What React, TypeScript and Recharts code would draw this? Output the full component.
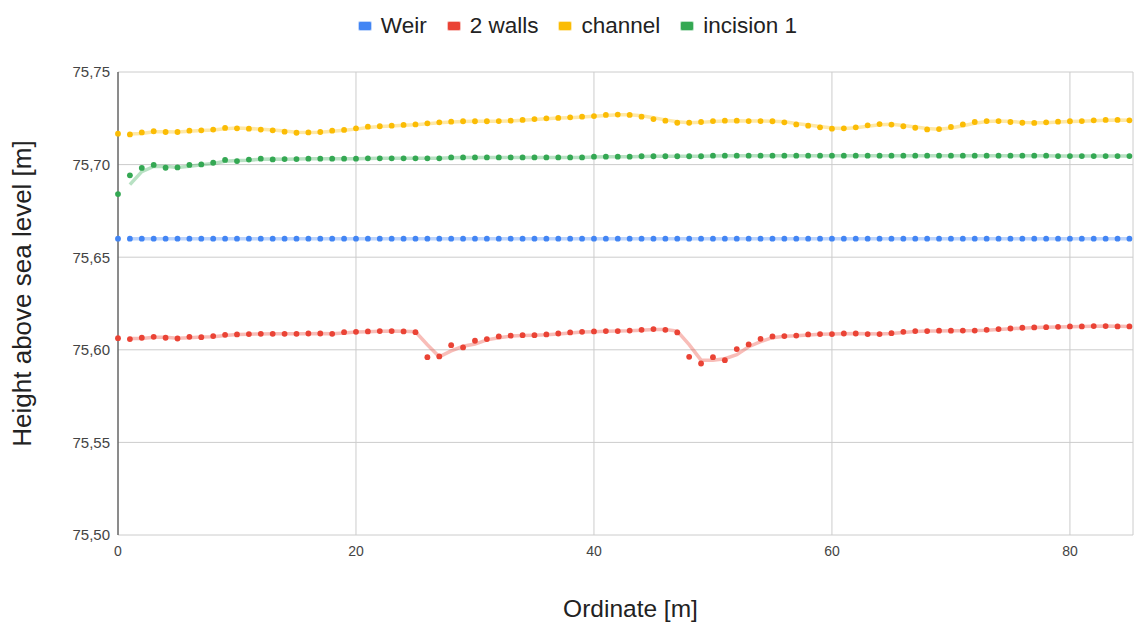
import React from 'react';
import { LineChart, Line, XAxis, YAxis, CartesianGrid, Legend, Label } from 'recharts';

const ordinate = [
  0, 1, 2, 3, 4, 5, 6, 7, 8, 9, 10, 11, 12, 13, 14, 15, 16, 17, 18, 19, 20,
  21, 22, 23, 24, 25, 26, 27, 28, 29, 30, 31, 32, 33, 34, 35, 36, 37, 38, 39, 40,
  41, 42, 43, 44, 45, 46, 47, 48, 49, 50, 51, 52, 53, 54, 55, 56, 57, 58, 59, 60,
  61, 62, 63, 64, 65, 66, 67, 68, 69, 70, 71, 72, 73, 74, 75, 76, 77, 78, 79, 80,
  81, 82, 83, 84, 85,
];

const weir = [
  75.66, 75.66, 75.66, 75.66, 75.66, 75.66, 75.66, 75.66, 75.66, 75.66, 75.66,
  75.66, 75.66, 75.66, 75.66, 75.66, 75.66, 75.66, 75.66, 75.66, 75.66,
  75.66, 75.66, 75.66, 75.66, 75.66, 75.66, 75.66, 75.66, 75.66, 75.66,
  75.66, 75.66, 75.66, 75.66, 75.66, 75.66, 75.66, 75.66, 75.66, 75.66,
  75.66, 75.66, 75.66, 75.66, 75.66, 75.66, 75.66, 75.66, 75.66, 75.66,
  75.66, 75.66, 75.66, 75.66, 75.66, 75.66, 75.66, 75.66, 75.66, 75.66,
  75.66, 75.66, 75.66, 75.66, 75.66, 75.66, 75.66, 75.66, 75.66, 75.66,
  75.66, 75.66, 75.66, 75.66, 75.66, 75.66, 75.66, 75.66, 75.66, 75.66,
  75.66, 75.66, 75.66, 75.66, 75.66,
];

const twoWalls = [
  75.6063, 75.6058, 75.6065, 75.607, 75.6065, 75.6061, 75.607, 75.6068, 75.6074, 75.6081, 75.6083,
  75.6085, 75.6086, 75.6086, 75.6086, 75.6086, 75.6088, 75.6088, 75.6086, 75.6095, 75.6097,
  75.6099, 75.6101, 75.6101, 75.6099, 75.6095, 75.596, 75.5964, 75.6025, 75.6013, 75.6049,
  75.6058, 75.6072, 75.6076, 75.6079, 75.6079, 75.6083, 75.6088, 75.6094, 75.6097, 75.6099,
  75.6101, 75.6101, 75.6104, 75.6108, 75.6112, 75.6108, 75.6094, 75.5962, 75.5926, 75.596,
  75.5944, 75.6004, 75.6029, 75.6059, 75.6072, 75.6074, 75.6077, 75.6083, 75.6085, 75.6085,
  75.6088, 75.6088, 75.6085, 75.6085, 75.609, 75.6097, 75.6101, 75.6101, 75.6103, 75.6103,
  75.6104, 75.6104, 75.6108, 75.6112, 75.6115, 75.6119, 75.6121, 75.6122, 75.6124, 75.6126,
  75.6126, 75.6128, 75.6128, 75.6126, 75.6126,
];

const channel = [
  75.7167, 75.7163, 75.7174, 75.718, 75.7176, 75.7176, 75.7183, 75.7185, 75.7189, 75.7198, 75.7196,
  75.7194, 75.7189, 75.7185, 75.7178, 75.7172, 75.7174, 75.7176, 75.7183, 75.7187, 75.7196,
  75.7205, 75.7207, 75.721, 75.7214, 75.7217, 75.7223, 75.7228, 75.7232, 75.7234, 75.7234,
  75.7234, 75.7235, 75.7237, 75.7241, 75.7246, 75.725, 75.7252, 75.7255, 75.7259, 75.7262,
  75.7268, 75.727, 75.7268, 75.7259, 75.7246, 75.7237, 75.7226, 75.7226, 75.723, 75.7235,
  75.7237, 75.7237, 75.7235, 75.7235, 75.7234, 75.7228, 75.7217, 75.721, 75.7201, 75.7194,
  75.7196, 75.7201, 75.7212, 75.7219, 75.7216, 75.7207, 75.7199, 75.719, 75.7192, 75.7203,
  75.7217, 75.723, 75.7235, 75.7235, 75.723, 75.7226, 75.7225, 75.7228, 75.7232, 75.7234,
  75.7235, 75.7239, 75.7241, 75.7241, 75.7239,
];

const incision1 = [
  75.6841, 75.6942, 75.6982, 75.6998, 75.6983, 75.6985, 75.6998, 75.7001, 75.701, 75.7025, 75.7019,
  75.7027, 75.7032, 75.7028, 75.703, 75.703, 75.7032, 75.7032, 75.7032, 75.7032, 75.7032,
  75.7034, 75.7034, 75.7034, 75.7034, 75.7034, 75.7034, 75.7034, 75.7039, 75.7039, 75.7039,
  75.7039, 75.7039, 75.7039, 75.7039, 75.7039, 75.7039, 75.7039, 75.7039, 75.7039, 75.7043,
  75.7043, 75.7043, 75.7043, 75.7045, 75.7045, 75.7045, 75.7045, 75.7045, 75.7045, 75.7048,
  75.7048, 75.7048, 75.7048, 75.7048, 75.7048, 75.7048, 75.7048, 75.7048, 75.7048, 75.7048,
  75.7048, 75.7048, 75.7048, 75.7048, 75.7048, 75.7048, 75.7048, 75.7048, 75.7048, 75.7048,
  75.7048, 75.7048, 75.7048, 75.7048, 75.7048, 75.7048, 75.7048, 75.7048, 75.7046, 75.7046,
  75.7046, 75.7046, 75.7046, 75.7046, 75.7046,
];

const yTicks = [75.5, 75.55, 75.6, 75.65, 75.7, 75.75];
const xTicks = [0, 20, 40, 60, 80];

const seriesDefs = [
  { key: 'weir', name: 'Weir', color: '#4285F4', values: weir },
  { key: 'walls', name: '2 walls', color: '#EA4335', values: twoWalls },
  { key: 'channel', name: 'channel', color: '#FBBC04', values: channel },
  { key: 'incision', name: 'incision 1', color: '#34A853', values: incision1 },
];

// 2-period moving-average trendline, as drawn in the source chart
const data = ordinate.map((x, i) => {
  const row: any = { x };
  seriesDefs.forEach((s) => {
    row[s.key] = s.values[i];
    row[s.key + 'Trend'] = i > 0 ? (s.values[i - 1] + s.values[i]) / 2 : null;
  });
  return row;
});

const FONT = '"Liberation Sans", Arial, sans-serif';

const LegendContent = () => (
  <div style={{ display: 'flex', justifyContent: 'center', alignItems: 'center', gap: 21, paddingLeft: 22, fontFamily: FONT, fontSize: 22.5, color: '#222', lineHeight: '26px', height: 26 }}>
    {seriesDefs.map((s) => (
      <div key={s.key} style={{ display: 'flex', alignItems: 'center' }}>
        <div style={{ width: 12, height: 8, background: s.color, borderRadius: 1, marginRight: 10, boxShadow: `0 0 0 1px ${s.color}55` }} />
        <span>{s.name}</span>
      </div>
    ))}
  </div>
);

export default function App() {
  return (
    <div style={{ position: 'absolute', left: 0, top: 0, width: 1134, height: 623, background: '#fff' }}>
      <LineChart width={1134} height={623} data={data} margin={{ top: 46, right: 1, left: 0, bottom: 0 }}>
        <CartesianGrid stroke="#cccccc" strokeWidth={1} />
        <XAxis
          type="number"
          dataKey="x"
          domain={[0, 85.3]}
          ticks={xTicks}
          axisLine={false}
          tickLine={false}
          tickMargin={5}
          height={88}
          tick={{ fontSize: 14, fill: '#444', fontFamily: FONT }}
        >
          <Label
            content={(props: any) => {
              const vb = props.viewBox;
              return (
                <text x={vb.x + vb.width / 2 + 5} y={vb.y + 82} textAnchor="middle" fontSize={24.5} fill="#222" fontFamily={FONT}>
                  Ordinate [m]
                </text>
              );
            }}
          />
        </XAxis>
        <YAxis
          type="number"
          domain={[75.5, 75.75]}
          ticks={yTicks}
          width={118}
          axisLine={{ stroke: '#333', strokeWidth: 1 }}
          tickLine={false}
          tick={{ fontSize: 15, fill: '#444', fontFamily: FONT }}
          tickFormatter={(v: number) => v.toFixed(2).replace('.', ',')}
        >
          <Label
            content={(props: any) => {
              const vb = props.viewBox;
              const cx = 22;
              const cy = vb.y + vb.height / 2 - 10;
              return (
                <text x={cx} y={cy} transform={`rotate(-90 ${cx} ${cy})`} textAnchor="middle" dominantBaseline="central" fontSize={26} fill="#222" fontFamily={FONT}>
                  Height above sea level [m]
                </text>
              );
            }}
          />
        </YAxis>
        <Legend verticalAlign="top" height={26} content={<LegendContent />} wrapperStyle={{ top: 13, left: 0, width: 1134 }} />
        {seriesDefs.map((s) => (
          <Line
            key={s.key + 'Trend'}
            dataKey={s.key + 'Trend'}
            stroke={s.color}
            strokeOpacity={0.35}
            strokeWidth={3.5}
            dot={false}
            activeDot={false}
            legendType="none"
            connectNulls={false}
            isAnimationActive={false}
            type="linear"
          />
        ))}
        {seriesDefs.map((s) => (
          <Line
            key={s.key}
            dataKey={s.key}
            name={s.name}
            stroke="none"
            dot={{ r: 2.9, fill: s.color, stroke: 'none' }}
            activeDot={false}
            isAnimationActive={false}
            type="linear"
          />
        ))}
      </LineChart>
    </div>
  );
}
